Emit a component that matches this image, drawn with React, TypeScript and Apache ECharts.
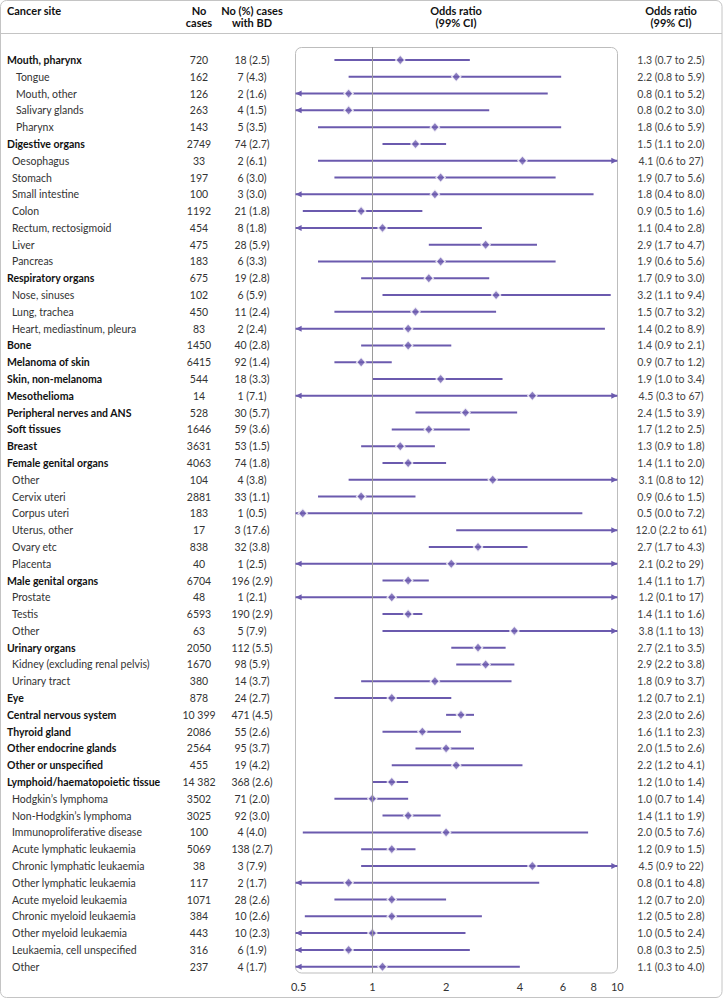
import React, { useEffect, useRef } from "react";
import * as echarts from "echarts";

const sites = [
  "Mouth, pharynx", "Tongue", "Mouth, other", "Salivary glands", "Pharynx",
  "Digestive organs", "Oesophagus", "Stomach", "Small intestine", "Colon", "Rectum, rectosigmoid", "Liver", "Pancreas",
  "Respiratory organs", "Nose, sinuses", "Lung, trachea", "Heart, mediastinum, pleura",
  "Bone", "Melanoma of skin", "Skin, non-melanoma", "Mesothelioma", "Peripheral nerves and ANS", "Soft tissues", "Breast",
  "Female genital organs", "Other", "Cervix uteri", "Corpus uteri", "Uterus, other", "Ovary etc", "Placenta",
  "Male genital organs", "Prostate", "Testis", "Other",
  "Urinary organs", "Kidney (excluding renal pelvis)", "Urinary tract",
  "Eye", "Central nervous system", "Thyroid gland", "Other endocrine glands", "Other or unspecified",
  "Lymphoid/haematopoietic tissue", "Hodgkin\u2019s lymphoma", "Non-Hodgkin\u2019s lymphoma", "Immunoproliferative disease",
  "Acute lymphatic leukaemia", "Chronic lymphatic leukaemia", "Other lymphatic leukaemia", "Acute myeloid leukaemia",
  "Chronic myeloid leukaemia", "Other myeloid leukaemia", "Leukaemia, cell unspecified", "Other",
];

// 0 = group heading, 1 = sub-site, 2 = sub-site (deeper indent)
const levels = [
  0, 2, 2, 2, 2,
  0, 1, 1, 1, 1, 1, 1, 1,
  0, 1, 1, 1,
  0, 0, 0, 0, 0, 0, 0,
  0, 1, 1, 1, 1, 1, 1,
  0, 1, 1, 1,
  0, 1, 1,
  0, 0, 0, 0, 0,
  0, 1, 1, 1, 1, 1, 1, 1, 1, 1, 1, 1,
];

const nCases = [
  720, 162, 126, 263, 143,
  2749, 33, 197, 100, 1192, 454, 475, 183,
  675, 102, 450, 83,
  1450, 6415, 544, 14, 528, 1646, 3631,
  4063, 104, 2881, 183, 17, 838, 40,
  6704, 48, 6593, 63,
  2050, 1670, 380,
  878, 10399, 2086, 2564, 455,
  14382, 3502, 3025, 100, 5069, 38, 117, 1071, 384, 443, 316, 237,
];

const bdN = [
  18, 7, 2, 4, 5,
  74, 2, 6, 3, 21, 8, 28, 6,
  19, 6, 11, 2,
  40, 92, 18, 1, 30, 59, 53,
  74, 4, 33, 1, 3, 32, 1,
  196, 1, 190, 5,
  112, 98, 14,
  24, 471, 55, 95, 19,
  368, 71, 92, 4, 138, 3, 2, 28, 10, 10, 6, 4,
];

const bdPct = [
  2.5, 4.3, 1.6, 1.5, 3.5,
  2.7, 6.1, 3.0, 3.0, 1.8, 1.8, 5.9, 3.3,
  2.8, 5.9, 2.4, 2.4,
  2.8, 1.4, 3.3, 7.1, 5.7, 3.6, 1.5,
  1.8, 3.8, 1.1, 0.5, 17.6, 3.8, 2.5,
  2.9, 2.1, 2.9, 7.9,
  5.5, 5.9, 3.7,
  2.7, 4.5, 2.6, 3.7, 4.2,
  2.6, 2.0, 3.0, 4.0, 2.7, 7.9, 1.7, 2.6, 2.6, 2.3, 1.9, 1.7,
];

const oddsRatio = [
  1.3, 2.2, 0.8, 0.8, 1.8,
  1.5, 4.1, 1.9, 1.8, 0.9, 1.1, 2.9, 1.9,
  1.7, 3.2, 1.5, 1.4,
  1.4, 0.9, 1.9, 4.5, 2.4, 1.7, 1.3,
  1.4, 3.1, 0.9, 0.52, 12.0, 2.7, 2.1,
  1.4, 1.2, 1.4, 3.8,
  2.7, 2.9, 1.8,
  1.2, 2.3, 1.6, 2.0, 2.2,
  1.2, 1.0, 1.4, 2.0, 1.2, 4.5, 0.8, 1.2, 1.2, 1.0, 0.8, 1.1,
];

const ciLow = [
  0.7, 0.8, 0.1, 0.2, 0.6,
  1.1, 0.6, 0.7, 0.4, 0.52, 0.4, 1.7, 0.6,
  0.9, 1.1, 0.7, 0.2,
  0.9, 0.7, 1.0, 0.3, 1.5, 1.2, 0.9,
  1.1, 0.8, 0.6, 0.0, 2.2, 1.7, 0.2,
  1.1, 0.1, 1.1, 1.1,
  2.1, 2.2, 0.9,
  0.7, 2.0, 1.1, 1.5, 1.2,
  1.0, 0.7, 1.1, 0.52, 0.9, 0.9, 0.1, 0.7, 0.53, 0.47, 0.3, 0.3,
];

const ciHigh = [
  2.5, 5.9, 5.2, 3.0, 5.9,
  2.0, 27, 5.6, 8.0, 1.6, 2.8, 4.7, 5.6,
  3.0, 9.4, 3.2, 8.9,
  2.1, 1.2, 3.4, 67, 3.9, 2.5, 1.8,
  2.0, 12, 1.5, 7.2, 61, 4.3, 29,
  1.7, 17, 1.6, 13,
  3.5, 3.8, 3.7,
  2.1, 2.6, 2.3, 2.6, 4.1,
  1.4, 1.4, 1.9, 7.6, 1.5, 22, 4.8, 2.0, 2.8, 2.4, 2.5, 4.0,
];

const xTicks = [0.5, 1, 2, 4, 6, 8, 10];
const xRange = [0.486, 10];

const FONT = "Lato, 'Open Sans', sans-serif";
const PURPLE = "#6b5aae";
const GRID_LINE = "#c4c4c4";
const FS = 10.5;

const fmtN = (n: number) => (n >= 10000 ? String(n).replace(/\B(?=(\d{3})+(?!\d))/g, " ") : String(n));
const fmtCI = (v: number) => (v >= 10 ? String(Math.round(v)) : v.toFixed(1));

export default function App() {
  const ref = useRef<HTMLDivElement>(null);

  useEffect(() => {
    if (!ref.current) return;
    const chart = echarts.init(ref.current, undefined, { renderer: "svg" });
    const L = (v: number) => Math.log10(v);
    const xMin = L(xRange[0]);
    const xMax = L(xRange[1]);
    const rows = sites.map((_, i) => i);
    const yMin = -0.774;
    const yMax = sites.length - 1 + 0.375;

    const ciData = rows.map((i) => {
      const lo = ciLow[i];
      const hi = ciHigh[i];
      const loArrow = lo < xRange[0] ? 1 : 0;
      const hiArrow = hi > xRange[1] ? 1 : 0;
      return [i, loArrow ? xMin : L(lo), hiArrow ? xMax : L(hi), loArrow, hiArrow];
    });
    const pointData = rows
      .filter((i) => oddsRatio[i] >= xRange[0] && oddsRatio[i] <= xRange[1])
      .map((i) => [L(oddsRatio[i]), i]);

    const baseY = {
      type: "value",
      inverse: true,
      min: yMin,
      max: yMax,
      axisLine: { show: false },
      axisTick: { show: false },
      splitLine: { show: false },
    };
    const labelBase = { customValues: rows, fontFamily: FONT, fontSize: FS, color: "#333" };

    const option: any = {
      animation: false,
      grid: { left: 295.6, top: 47, width: 321.7, height: 926 },
      xAxis: {
        type: "value",
        min: xMin,
        max: xMax,
        axisLine: { show: false },
        axisTick: { show: false },
        splitLine: { show: false },
        axisLabel: {
          customValues: xTicks.map(L),
          formatter: (v: number) => String(Number(Math.pow(10, v).toFixed(1))),
          margin: 8,
          fontFamily: FONT,
          fontSize: 11,
          color: "#333",
        },
      },
      yAxis: [
        {
          ...baseY,
          position: "left",
          axisLabel: {
            ...labelBase,
            align: "left",
            margin: 288.6,
            formatter: (v: number) => {
              const i = Math.round(v);
              const k = levels[i] === 0 ? "g" : levels[i] === 1 ? "s" : "t";
              return `{${k}|${sites[i]}}`;
            },
            rich: {
              g: { fontFamily: FONT, fontSize: FS, fontWeight: "bold", color: "#111" },
              s: { fontFamily: FONT, fontSize: FS, color: "#333", padding: [0, 0, 0, 5] },
              t: { fontFamily: FONT, fontSize: FS, color: "#333", padding: [0, 0, 0, 9] },
            },
          },
        },
        {
          ...baseY,
          position: "left",
          axisLabel: { ...labelBase, align: "center", margin: 96.6, formatter: (v: number) => fmtN(nCases[Math.round(v)]) },
        },
        {
          ...baseY,
          position: "left",
          axisLabel: {
            ...labelBase,
            align: "center",
            margin: 43.6,
            formatter: (v: number) => {
              const i = Math.round(v);
              return `${bdN[i]} (${bdPct[i].toFixed(1)})`;
            },
          },
        },
        {
          ...baseY,
          position: "right",
          axisLabel: {
            ...labelBase,
            align: "center",
            margin: 53.7,
            color: "#444",
            formatter: (v: number) => {
              const i = Math.round(v);
              return `${oddsRatio[i].toFixed(1)} (${fmtCI(ciLow[i])} to ${fmtCI(ciHigh[i])})`;
            },
          },
        },
      ],
      series: [
        {
          type: "custom",
          xAxisIndex: 0,
          yAxisIndex: 0,
          data: ciData,
          renderItem: (params: any, api: any) => {
            const i = api.value(0);
            const p1 = api.coord([api.value(1), i]);
            const p2 = api.coord([api.value(2), i]);
            const children: any[] = [
              {
                type: "line",
                shape: { x1: p1[0], y1: p1[1], x2: p2[0], y2: p2[1] },
                style: { stroke: PURPLE, lineWidth: 2 },
              },
            ];
            if (api.value(3)) {
              children.push({
                type: "polygon",
                shape: { points: [[p1[0], p1[1]], [p1[0] + 6, p1[1] - 3], [p1[0] + 6, p1[1] + 3]] },
                style: { fill: PURPLE },
              });
            }
            if (api.value(4)) {
              children.push({
                type: "polygon",
                shape: { points: [[p2[0], p2[1]], [p2[0] - 6, p2[1] - 3], [p2[0] - 6, p2[1] + 3]] },
                style: { fill: PURPLE },
              });
            }
            return { type: "group", children };
          },
          z: 2,
        },
        {
          type: "scatter",
          xAxisIndex: 0,
          yAxisIndex: 0,
          data: pointData,
          symbol: "diamond",
          symbolSize: [9, 10],
          itemStyle: { color: PURPLE, borderColor: "#fff", borderWidth: 1.5 },
          z: 3,
          markLine: {
            silent: true,
            symbol: "none",
            label: { show: false },
            lineStyle: { color: "#9a9a9a", width: 1, type: "solid" },
            data: [{ xAxis: 0 }],
          },
        },
      ],
      graphic: [
        {
          type: "rect",
          shape: { x: 0.5, y: 0.5, width: 721.5, height: 997, r: 6 },
          style: { fill: "none", stroke: GRID_LINE, lineWidth: 1 },
          silent: true,
        },
        {
          type: "line",
          shape: { x1: 0, y1: 33.5, x2: 722, y2: 33.5 },
          style: { stroke: GRID_LINE, lineWidth: 1 },
          silent: true,
        },
        {
          type: "rect",
          shape: { x: 295.5, y: 47.5, width: 322, height: 925.5, r: 6 },
          style: { fill: "none", stroke: "#bdbdbd", lineWidth: 1 },
          silent: true,
          z: -1,
        },
        {
          type: "text",
          x: 7,
          y: 5,
          style: { text: "Cancer site", font: `bold 11px ${FONT}`, fill: "#111", textAlign: "left", textVerticalAlign: "top" },
        },
        {
          type: "text",
          x: 199,
          y: 5,
          style: { text: "No\ncases", font: `bold 11px ${FONT}`, fill: "#111", textAlign: "center", textVerticalAlign: "top", lineHeight: 11.5 },
        },
        {
          type: "text",
          x: 252,
          y: 5,
          style: { text: "No (%) cases\nwith BD", font: `bold 11px ${FONT}`, fill: "#111", textAlign: "center", textVerticalAlign: "top", lineHeight: 11.5 },
        },
        {
          type: "text",
          x: 456,
          y: 5,
          style: { text: "Odds ratio\n(99% CI)", font: `bold 11px ${FONT}`, fill: "#111", textAlign: "center", textVerticalAlign: "top", lineHeight: 11.5 },
        },
        {
          type: "text",
          x: 671,
          y: 5,
          style: { text: "Odds ratio\n(99% CI)", font: `bold 11px ${FONT}`, fill: "#111", textAlign: "center", textVerticalAlign: "top", lineHeight: 11.5 },
        },
      ],
    };

    chart.setOption(option);
    return () => chart.dispose();
  }, []);

  return <div ref={ref} style={{ position: "absolute", left: 0, top: 0, width: 723, height: 1000, background: "#fff" }} />;
}
